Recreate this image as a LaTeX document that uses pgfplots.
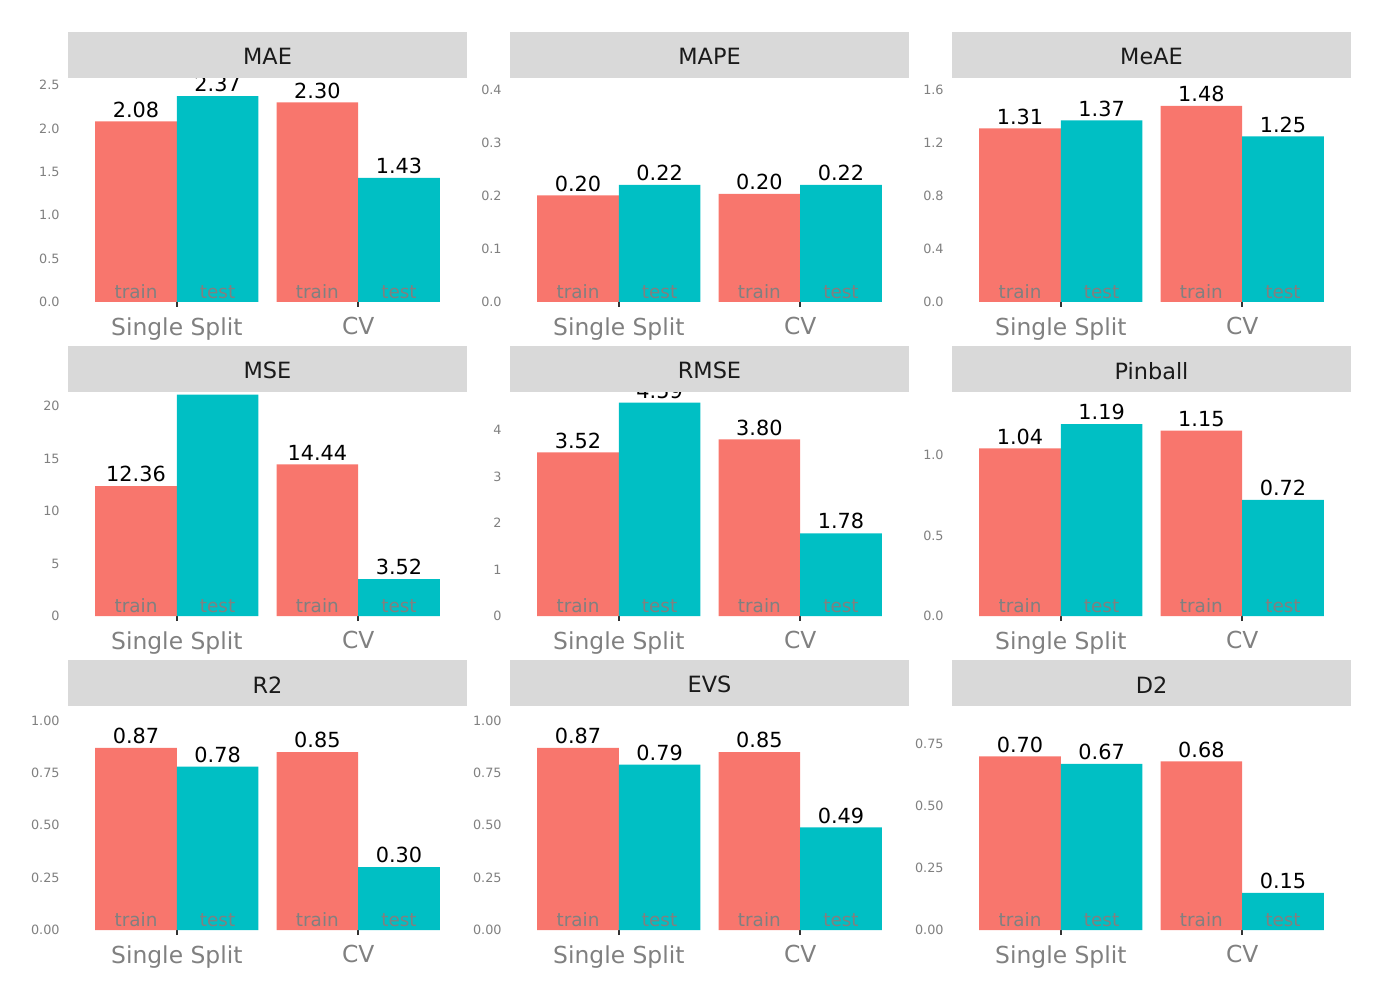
\documentclass[border=0pt]{standalone}
\usepackage{pgfplots}
\pgfplotsset{compat=1.18}
\usepackage{fontspec}
\setmainfont{DejaVu Sans}

\definecolor{trainc}{HTML}{F8766D}
\definecolor{testc}{HTML}{00BFC4}
\definecolor{stripc}{HTML}{D9D9D9}
\definecolor{tickc}{HTML}{808080}
\definecolor{titlec}{HTML}{1A1A1A}

\tikzset{lbl/.style={font=\fontsize{9.2}{11}\selectfont, text=tickc, anchor=south, inner sep=1.5pt}}

\pgfplotsset{
  panel/.style={
    anchor=south west, scale only axis,
    width=199.5pt, height=112pt,
    ybar, bar width=0.45,
    xmin=0.4, xmax=2.6, ymin=0,
    enlargelimits=false,
    axis line style={draw=none},
    xtick={1,2}, xticklabels={Single Split, CV},
    xtick pos=bottom, tick align=outside, major tick length=2.5pt,
    x tick style={draw=black!80, line width=0.8pt},
    ytick style={draw=none},
    x tick label style={font=\fontsize{11.7}{14}\selectfont, text=tickc, inner sep=5pt},
    y tick label style={font=\fontsize{6.4}{7.5}\selectfont, text=tickc, inner sep=1.5pt},
    /pgf/number format/assume math mode=true,
    nodes near coords,
    every node near coord/.append style={font=\fontsize{10.4}{12}\selectfont, text=black, anchor=south, inner sep=1.8pt,
      /pgf/number format/fixed, /pgf/number format/fixed zerofill, /pgf/number format/precision=2},
  },
}

% #1 x, #2 y, #3 title, #4 ymax, #5 yticks, #6 tick precision, #7 train, #8 test
\newcommand{\panel}[8]{%
\begin{axis}[panel, name=ax, at={(#1,#2)}, ymax=#4, ytick={#5},
  yticklabel style={/pgf/number format/fixed, /pgf/number format/fixed zerofill, /pgf/number format/precision=#6}]
\addplot[fill=trainc, draw=none, bar shift=-0.225] coordinates {#7};
\addplot[fill=testc, draw=none, bar shift=0.225] coordinates {#8};
\node[lbl] at (axis cs:0.775,0) {train};
\node[lbl] at (axis cs:1.225,0) {test};
\node[lbl] at (axis cs:1.775,0) {train};
\node[lbl] at (axis cs:2.225,0) {test};
\end{axis}
\fill[stripc] (ax.north west) rectangle ([yshift=23pt]ax.north east);
\node[text=titlec, font=\fontsize{11.2}{13}\selectfont] at ([yshift=10.6pt]ax.north) {#3};
}

\begin{document}
\begin{tikzpicture}
\path (0,0) rectangle (691pt,499pt);

\panel{34pt}{348pt}{MAE}{2.58}{0,0.5,...,2.5}{1}{(1,2.08) (2,2.30)}{(1,2.37) (2,1.43)}
\panel{255pt}{348pt}{MAPE}{0.4226}{0,0.1,0.2,0.3,0.4}{1}{(1,0.201) (2,0.204)}{(1,0.221) (2,0.221)}
\panel{476pt}{348pt}{MeAE}{1.69}{0,0.4,0.8,1.2,1.6}{1}{(1,1.31) (2,1.48)}{(1,1.37) (2,1.25)}

\panel{34pt}{191pt}{MSE}{21.33}{0,5,10,15,20}{0}{(1,12.36) (2,14.44)}{(1,21.07) (2,3.52)}
\panel{255pt}{191pt}{RMSE}{4.82}{0,1,2,3,4}{0}{(1,3.52) (2,3.80)}{(1,4.59) (2,1.78)}
\panel{476pt}{191pt}{Pinball}{1.39}{0,0.5,1.0}{1}{(1,1.04) (2,1.15)}{(1,1.19) (2,0.72)}

\panel{34pt}{34pt}{R2}{1.07}{0,0.25,0.5,0.75,1}{2}{(1,0.87) (2,0.85)}{(1,0.78) (2,0.30)}
\panel{255pt}{34pt}{EVS}{1.07}{0,0.25,0.5,0.75,1}{2}{(1,0.87) (2,0.85)}{(1,0.79) (2,0.49)}
\panel{476pt}{34pt}{D2}{0.903}{0,0.25,0.5,0.75}{2}{(1,0.70) (2,0.68)}{(1,0.67) (2,0.15)}
\end{tikzpicture}
\end{document}
